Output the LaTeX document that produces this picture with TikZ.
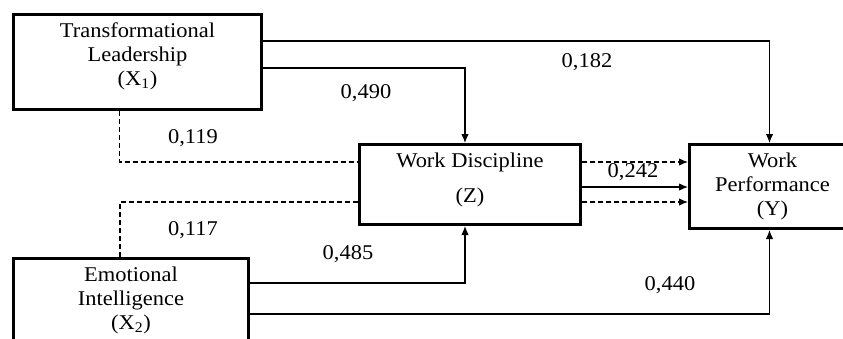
\documentclass[tikz,border=0pt]{standalone}
\usepackage{fontspec}
\setmainfont{Liberation Serif}[FakeStretch=1.07]
\usepackage{tikz}
\usetikzlibrary{arrows.meta, positioning, calc}

\begin{document}
\begin{tikzpicture}[x=1pt, y=-1pt,
          font=\fontsize{21}{24}\selectfont,
          box/.style={draw, line width=3pt, anchor=north west, align=center,
                      inner xsep=4pt, inner ysep=9pt},
          link/.style={-{Latex[length=9pt,width=7.5pt]}, line width=1.2pt},
          indirect/.style={link, dash pattern=on 5pt off 3pt},
          coef/.style={inner sep=1pt}]
          \clip (0,0) rectangle (843,338);

          % Variables
          \node[box, minimum width=248pt, text height=62pt, text depth=15pt] (x1) at (12,13)
               {Transformational\\Leadership\\(X\textsubscript{1})};
          \node[box, minimum width=235pt, text height=62pt, text depth=15pt] (x2) at (12,257)
               {Emotional\\Intelligence\\(X\textsubscript{2})};
          \node[box, minimum width=221pt, text height=49pt, text depth=13pt] (z) at (358,143)
               {Work Discipline\\[11pt](Z)};
          \node[box, minimum width=166pt, text height=62pt, text depth=4pt] (y) at (688,143)
               {Work\\Performance\\(Y)};

          % Paths
          \draw[link] (x1.east |- 0,41) -| ([xshift=-3pt]y.north);
          \draw[link] (x1.east |- 0,68) -| ([xshift=-5pt]z.north);
          \draw[indirect, -] ([xshift=-18pt]x1.south) |- (z.west |- 0,162);
          \draw[indirect, -] ([xshift=-11pt]x2.north) |- (z.west |- 0,202);
          \draw[link] (x2.east |- 0,283) -| ([xshift=-5pt]z.south);
          \draw[link] (x2.east |- 0,314) -| ([xshift=-3pt]y.south);
          \draw[indirect] (z.east |- 0,162) -- (y.west |- 0,162);
          \draw[link] (z.east |- 0,187) -- (y.west |- 0,187);
          \draw[indirect] (z.east |- 0,202) -- (y.west |- 0,202);

          % Coefficients
          \node[coef] (c182) at (587,62) {0,182};
          \node[coef] (c490) at (366,93) {0,490};
          \node[coef] (c119) at (193,138) {0,119};
          \node[coef] (c117) at (193,230) {0,117};
          \node[coef] (c485) at (348,254) {0,485};
          \node[coef] (c440) at (670,285) {0,440};
          \node[coef] (c242) at (633,172) {0,242};
        \end{tikzpicture}
\end{document}
